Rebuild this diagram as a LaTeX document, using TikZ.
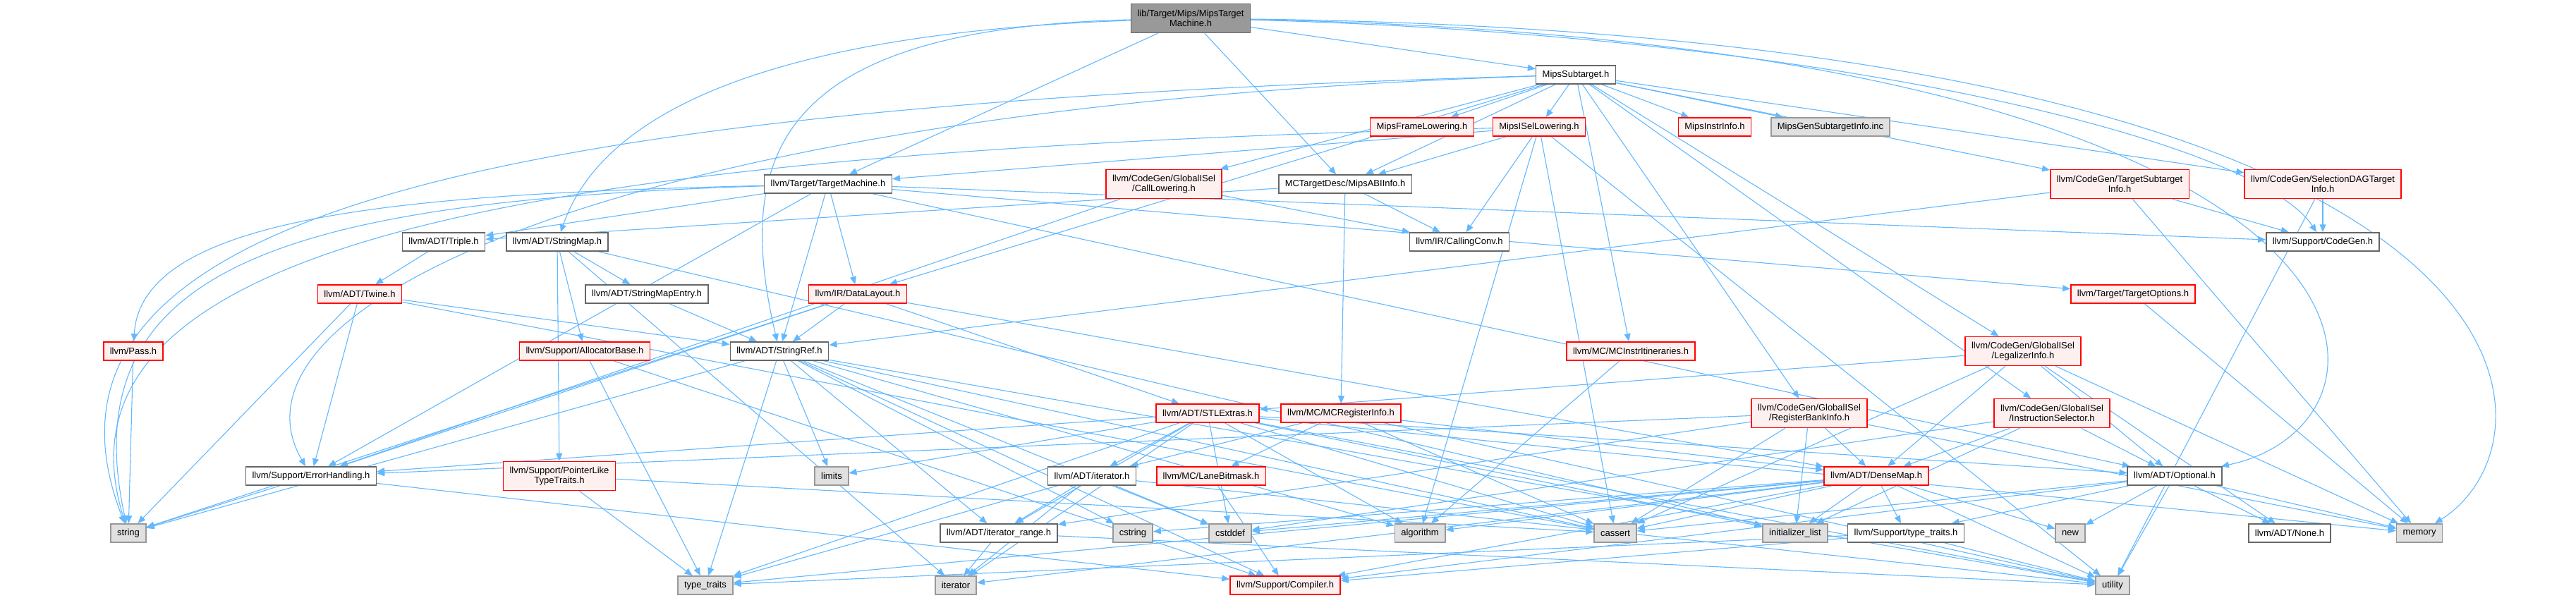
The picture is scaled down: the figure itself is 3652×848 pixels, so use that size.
\documentclass[tikz,border=0pt]{standalone}
\usepackage{fontspec}
\setmainfont{Liberation Sans}
\usetikzlibrary{arrows.meta, backgrounds}
\definecolor{incblue}{RGB}{99,184,255}
\definecolor{hdrred}{RGB}{255,0,0}
\definecolor{hdrpink}{RGB}{255,240,240}
\definecolor{sysgray}{RGB}{224,224,224}
\definecolor{greyforty}{RGB}{102,102,102}
\definecolor{greysixty}{RGB}{153,153,153}

\tikzset{
  hdr/.style={draw, rectangle, line width=1.5pt, font=\fontsize{13}{14.5}\selectfont, align=center, inner xsep=9pt, inner ysep=0pt, minimum height=26pt},
  rootbox/.style={hdr, draw=greyforty, fill=greysixty, minimum height=41pt},
  redbox/.style={hdr, draw=hdrred, fill=hdrpink},
  whitebox/.style={hdr, draw=greyforty, fill=white},
  sysbox/.style={hdr, draw=greysixty, fill=sysgray},
  twoline/.style={minimum height=41pt},
  inc/.style={draw=incblue, line width=1.1pt, -{Triangle[length=11pt,width=9pt]}},
}

\begin{document}
\begin{tikzpicture}[x=1pt, y=-1pt]
  \useasboundingbox (0,0) rectangle (3652,848);

  \node[rootbox] (root) at (1688,26) {lib/Target/Mips/MipsTarget\\Machine.h};
  \node[whitebox] (subtgt) at (2234,106) {MipsSubtarget.h};

  \node[redbox] (frame) at (2016,180) {MipsFrameLowering.h};
  \node[redbox] (isel) at (2182,180) {MipsISelLowering.h};
  \node[redbox] (instr) at (2431,180) {MipsInstrInfo.h};
  \node[sysbox] (geninc) at (2595,180) {MipsGenSubtargetInfo.inc};

  \node[whitebox] (tm) at (1174,261) {llvm/Target/TargetMachine.h};
  \node[redbox, twoline] (calllow) at (1650,261) {llvm/CodeGen/GlobalISel\\/CallLowering.h};
  \node[whitebox] (abi) at (1907,261) {MCTargetDesc/MipsABIInfo.h};
  \node[redbox, twoline] (tsi) at (3005,261) {llvm/CodeGen/TargetSubtarget\\Info.h};
  \node[redbox, twoline] (sdag) at (3293,261) {llvm/CodeGen/SelectionDAGTarget\\Info.h};

  \node[whitebox] (triple) at (629,343) {llvm/ADT/Triple.h};
  \node[whitebox] (strmap) at (790,343) {llvm/ADT/StringMap.h};
  \node[whitebox] (callconv) at (2069,343) {llvm/IR/CallingConv.h};
  \node[whitebox] (cgen) at (3293,343) {llvm/Support/CodeGen.h};

  \node[redbox] (twine) at (510,417) {llvm/ADT/Twine.h};
  \node[whitebox] (smentry) at (917,417) {llvm/ADT/StringMapEntry.h};
  \node[redbox] (dlayout) at (1216,417) {llvm/IR/DataLayout.h};
  \node[redbox] (topts) at (3024,417) {llvm/Target/TargetOptions.h};

  \node[redbox] (pass) at (189,498) {llvm/Pass.h};
  \node[redbox] (alloc) at (829,498) {llvm/Support/AllocatorBase.h};
  \node[whitebox] (sref) at (1105,498) {llvm/ADT/StringRef.h};
  \node[redbox] (itin) at (2312,498) {llvm/MC/MCInstrItineraries.h};
  \node[redbox, twoline] (legal) at (2868,498) {llvm/CodeGen/GlobalISel\\/LegalizerInfo.h};

  \node[redbox] (stlx) at (1712,586) {llvm/ADT/STLExtras.h};
  \node[redbox] (mcreg) at (1901,586) {llvm/MC/MCRegisterInfo.h};
  \node[redbox, twoline] (rbi) at (2565,586) {llvm/CodeGen/GlobalISel\\/RegisterBankInfo.h};
  \node[redbox, twoline] (isel2) at (2909,586) {llvm/CodeGen/GlobalISel\\/InstructionSelector.h};

  \node[whitebox] (errh) at (441,675) {llvm/Support/ErrorHandling.h};
  \node[redbox, twoline] (ptrlike) at (793,675) {llvm/Support/PointerLike\\TypeTraits.h};
  \node[sysbox] (limits) at (1179,675) {limits};
  \node[whitebox] (iter) at (1548,675) {llvm/ADT/iterator.h};
  \node[redbox] (lane) at (1717,675) {llvm/MC/LaneBitmask.h};
  \node[redbox] (dmap) at (2660,675) {llvm/ADT/DenseMap.h};
  \node[whitebox] (optional) at (3083,675) {llvm/ADT/Optional.h};

  \node[sysbox] (string) at (182,756) {string};
  \node[whitebox] (irange) at (1416,756) {llvm/ADT/iterator\_range.h};
  \node[sysbox] (cstring) at (1606,756) {cstring};
  \node[sysbox] (cstddef) at (1744,756) {cstddef};
  \node[sysbox] (algo) at (2013,756) {algorithm};
  \node[sysbox] (cassert) at (2290,756) {cassert};
  \node[sysbox] (initl) at (2545,756) {initializer\_list};
  \node[whitebox] (lltt) at (2702,756) {llvm/Support/type\_traits.h};
  \node[sysbox] (new) at (2935,756) {new};
  \node[whitebox] (none) at (3246,756) {llvm/ADT/None.h};
  \node[sysbox] (memory) at (3430,756) {memory};

  \node[sysbox] (stdtt) at (1000,830) {type\_traits};
  \node[sysbox] (iterstd) at (1355,830) {iterator};
  \node[redbox] (compiler) at (1822,830) {llvm/Support/Compiler.h};
  \node[sysbox] (utility) at (2995,830) {utility};

  \begin{pgfonlayer}{background}
    \foreach \t in {subtgt,abi,tm} \draw[inc] (root) -- (\t);
    \draw[inc] (root) .. controls (2600,50) and (3200,200) .. (cgen);
    \draw[inc] (root) .. controls (1000,50) and (840,200) .. (strmap);
    \draw[inc] (root) .. controls (1100,40) and (1040,220) .. (sref);
    \draw[inc] (root) .. controls (3440,60) and (3443,600) .. (optional);
    \draw[inc] (root) .. controls (3640,50) and (3646,620) .. (memory);

    \foreach \t in {abi,frame,isel,instr,geninc,calllow,dlayout,itin,rbi,legal,isel2,tsi,sdag} \draw[inc] (subtgt) -- (\t);
    \draw[inc] (subtgt) .. controls (900,150) and (300,430) .. (errh);
    \draw[inc] (subtgt) .. controls (700,150) and (5,300) .. (string);

    \foreach \t in {abi,callconv,tm,algo,cassert,utility} \draw[inc] (isel) -- (\t);
    \draw[inc] (isel) .. controls (800,215) and (50,330) .. (string);

    \foreach \t in {triple,callconv,mcreg} \draw[inc] (abi) -- (\t);

    \foreach \t in {triple,sref,dlayout,cgen,topts,errh,optional} \draw[inc] (tm) -- (\t);
    \draw[inc] (tm) .. controls (600,275) and (200,300) .. (pass);
    \draw[inc] (tm) .. controls (400,285) and (100,380) .. (string);

    \foreach \t in {callconv,errh} \draw[inc] (calllow) -- (\t);
    \foreach \t in {sref,cgen,memory} \draw[inc] (tsi) -- (\t);
    \foreach \t in {cgen,utility} \draw[inc] (sdag) -- (\t);
    \draw[inc] (triple) -- (twine);
    \foreach \t in {smentry,alloc,ptrlike,iterstd,initl} \draw[inc] (strmap) -- (\t);
    \draw[inc] (smentry) -- (sref);
    \foreach \t in {string,errh,sref,cassert} \draw[inc] (twine) -- (\t);
    \foreach \t in {sref,stlx,errh,string,dmap} \draw[inc] (dlayout) -- (\t);
    \draw[inc] (topts) -- (memory);
    \draw[inc] (pass) -- (string);
    \foreach \t in {compiler,stdtt} \draw[inc] (alloc) -- (\t);
    \foreach \t in {string,stdtt,irange,cstring,cstddef,limits,compiler,algo,cassert,utility} \draw[inc] (sref) -- (\t);
    \draw[inc] (itin) -- (algo);
    \foreach \t in {stlx,dmap,optional,cassert,none,memory} \draw[inc] (legal) -- (\t);
    \foreach \t in {errh,iter,irange,limits,stdtt,iterstd,cstddef,cassert,algo,utility,initl,memory,optional} \draw[inc] (stlx) -- (\t);
    \foreach \t in {dmap,lane,iter,cassert,utility} \draw[inc] (mcreg) -- (\t);
    \foreach \t in {dmap,irange,errh,cassert,initl,memory} \draw[inc] (rbi) -- (\t);
    \foreach \t in {dmap,optional,cstddef,initl} \draw[inc] (isel2) -- (\t);
    \foreach \t in {string,compiler} \draw[inc] (errh) -- (\t);
    \foreach \t in {stdtt,cassert} \draw[inc] (ptrlike) -- (\t);
    \foreach \t in {irange,iterstd,cstddef,stdtt,utility} \draw[inc] (iter) -- (\t);
    \draw[inc] (lane) -- (compiler);
    \foreach \t in {algo,cassert,initl,lltt,new,utility,compiler,cstddef,cstring,iterstd,stdtt} \draw[inc] (dmap) -- (\t);
    \foreach \t in {none,memory,new,utility,lltt,compiler,cassert} \draw[inc] (optional) -- (\t);
    \foreach \t in {iterstd,utility} \draw[inc] (irange) -- (\t);
    \foreach \t in {stdtt,utility,compiler} \draw[inc] (lltt) -- (\t);
  \end{pgfonlayer}
\end{tikzpicture}
\end{document}
